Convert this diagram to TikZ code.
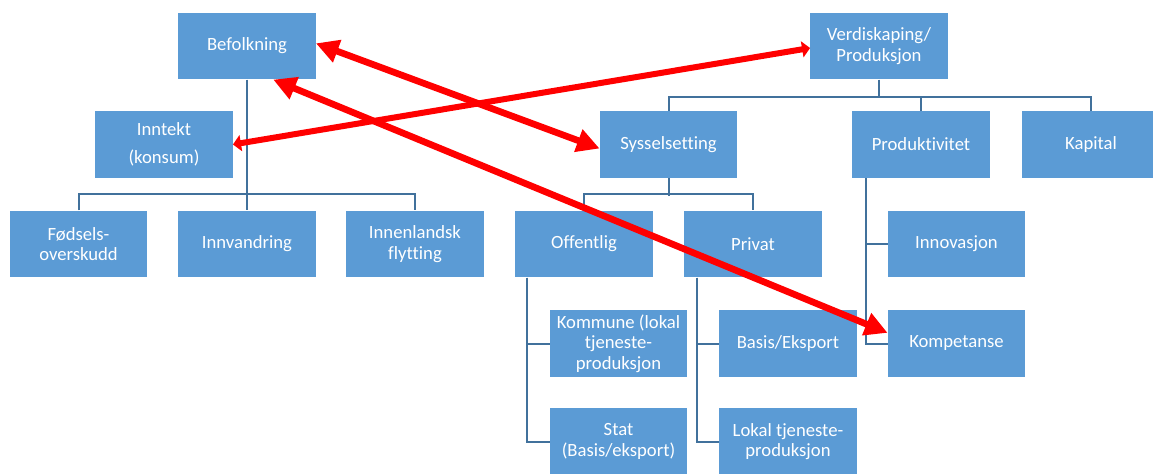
\documentclass[tikz,border=0pt]{standalone}
\usepackage{fontspec}
\setmainfont{Carlito}[Ligatures=NoCommon]
\usetikzlibrary{arrows.meta}
\definecolor{boxblue}{HTML}{5B9BD5}
\definecolor{lineblue}{HTML}{41719C}
\begin{document}
\begin{tikzpicture}[x=0.75pt,y=-0.75pt,
  box/.style={fill=boxblue,text=white,minimum width=103pt,minimum height=50pt,inner sep=0pt,align=center,font=\fontsize{14}{15.5}\selectfont},
  conn/.style={draw=lineblue,line width=1.5pt},
  redarrow/.style={draw=red,line width=5pt,{Triangle[length=17pt,width=17pt]}-{Triangle[length=17pt,width=17pt]}},
  smallarrow/.style={draw=red,line width=4.5pt,{Triangle[length=6pt,width=12pt]}-{Triangle[length=6pt,width=12pt]}}]
\useasboundingbox (0,0) rectangle (1153,474);
\node [box] (befolk) at (247,46) {Befolkning};
\node [box] (verdi) at (879,46) {Verdiskaping/\\Produksjon};
\node [box] (inntekt) at (164,144.5) {Inntekt\\[5.5pt](konsum)};
\node [box] (syssel) at (668.5,144.5) {Sysselsetting};
\node [box] (prod) at (921,144.5) {Produktivitet};
\node [box] (kapital) at (1091,144.5) {Kapital};
\node [box] (fodsel) at (78.5,244) {Fødsels-\\overskudd};
\node [box] (innv) at (247,244) {Innvandring};
\node [box] (innen) at (415,244) {Innenlandsk\\flytting};
\node [box] (offentlig) at (584,244) {Offentlig};
\node [box] (privat) at (753,244) {Privat};
\node [box] (innov) at (956.5,244) {Innovasjon};
\node [box] (kommune) at (618.5,343.5) {Kommune (lokal\\tjeneste-\\produksjon};
\node [box] (basis) at (788,343.5) {Basis/Eksport};
\node [box] (kompet) at (956.5,343.5) {Kompetanse};
\node [box] (stat) at (618.5,441.5) {Stat\\(Basis/eksport)};
\node [box] (lokal) at (788,441.5) {Lokal tjeneste-\\produksjon};
\draw [conn] (befolk.south) -- (innv.north);
\draw [conn] (fodsel.north) -- ++(0,-16) -| (innen.north);
\draw [conn] (verdi.south) -- ++(0,18);
\draw [conn] (syssel.north) -- ++(0,-14) -| (kapital.north);
\draw [conn] (prod.north) -- ++(0,-14);
\draw [conn] (syssel.south) -- ++(0,17.5);
\draw [conn] (offentlig.north) -- ++(0,-16) -| (privat.north);
\draw [conn] ([xshift=9pt]offentlig.south west) |- (kommune.west);
\draw [conn] ([xshift=9pt]offentlig.south west) |- (stat.west);
\draw [conn] ([xshift=9.75pt]privat.south west) |- (basis.west);
\draw [conn] ([xshift=9.75pt]privat.south west) |- (lokal.west);
\draw [conn] ([xshift=10.5pt]prod.south west) |- (innov.west);
\draw [conn] ([xshift=10.5pt]prod.south west) |- (kompet.west);
\draw [redarrow] ([yshift=2pt]befolk.east) -- ([yshift=-3pt]syssel.west);
\draw [redarrow] (befolk.-52) -- ([yshift=8pt]kompet.west);
\draw [smallarrow] (inntekt.east) -- ([yshift=-1.5pt]verdi.west);
\end{tikzpicture}
\end{document}
